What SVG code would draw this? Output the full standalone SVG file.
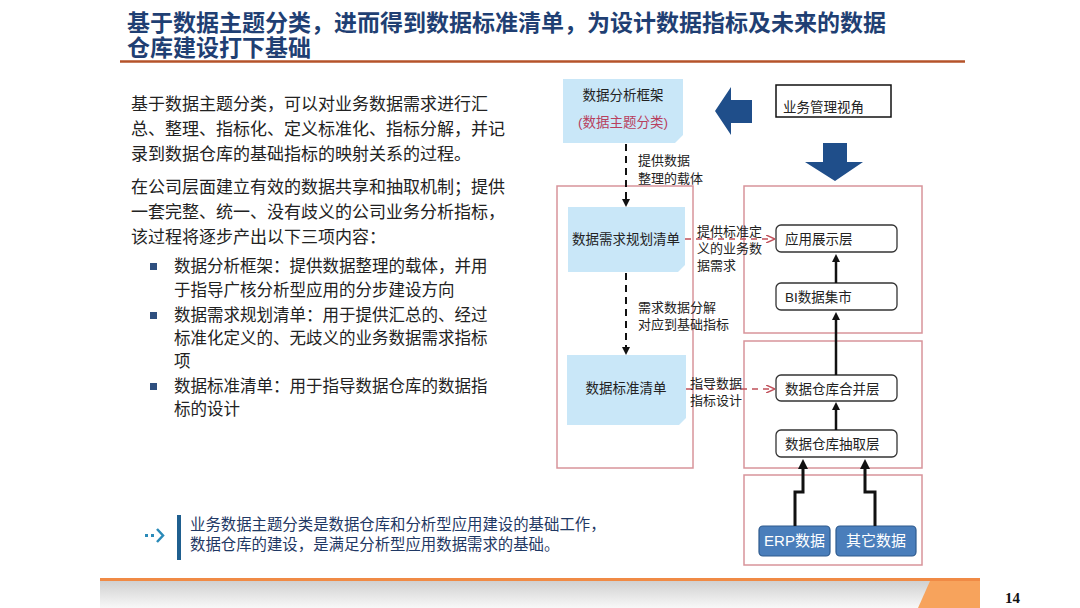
<svg xmlns="http://www.w3.org/2000/svg" width="1080" height="608" viewBox="0 0 1080 608">
<defs>
<style>
.t{font-family:"Liberation Sans","Noto Sans CJK SC",sans-serif;}
.title{font-size:23px;font-weight:bold;fill:#1F3F73;}
.body{font-size:17px;fill:#222;}
.bul{font-size:16.5px;fill:#222;}
.lbl{font-size:13px;fill:#222;}
.nb{font-size:13.5px;fill:#222;}
.red{fill:#B8405E;}
.wht{fill:#fff;font-size:15px;}
.frame{fill:none;stroke:#D8949A;stroke-width:1.5;}
.doc{fill:#C9E7F8;}
.layer{fill:#fff;stroke:#333;stroke-width:1.3;}
.blk{stroke:#111;stroke-width:3;fill:none;}
.src{fill:#4A7EBB;stroke:#2E5A8E;stroke-width:1.2;}
</style>
<marker id="ab" markerWidth="8" markerHeight="8" refX="4" refY="4" orient="auto" markerUnits="userSpaceOnUse"><path d="M0,0 L8,4 L0,8 z" fill="#111"/></marker>
<marker id="ar" markerWidth="9" markerHeight="8" refX="8" refY="4" orient="auto" markerUnits="userSpaceOnUse"><path d="M0,0 L9,4 L0,8" fill="none" stroke="#C0505A" stroke-width="1.5"/></marker>
<marker id="ak" markerWidth="10" markerHeight="10" refX="5" refY="5" orient="auto" markerUnits="userSpaceOnUse"><path d="M0,0 L10,5 L0,10 z" fill="#111"/></marker>
<linearGradient id="gb" x1="0" y1="0" x2="0" y2="1"><stop offset="0" stop-color="#D0D0D0"/><stop offset="1" stop-color="#F8F8F8"/></linearGradient>
</defs>
<rect width="1080" height="608" fill="#fff"/>

<g id="title">
<text class="t title" x="127" y="31">基于数据主题分类，进而得到数据标准清单，为设计数据指标及未来的数据</text>
<text class="t title" x="127" y="56">仓库建设打下基础</text>
<line x1="120" y1="61.5" x2="965" y2="61.5" stroke="#B5532A" stroke-width="2.5"/>
</g>

<g id="left-text">
<text class="t body" x="131" y="110">基于数据主题分类，可以对业务数据需求进行汇</text>
<text class="t body" x="131" y="135">总、整理、指标化、定义标准化、指标分解，并记</text>
<text class="t body" x="131" y="160">录到数据仓库的基础指标的映射关系的过程。</text>
<text class="t body" x="131" y="193">在公司层面建立有效的数据共享和抽取机制；提供</text>
<text class="t body" x="131" y="218">一套完整、统一、没有歧义的公司业务分析指标，</text>
<text class="t body" x="131" y="243">该过程将逐步产出以下三项内容：</text>
<rect x="150" y="263" width="7" height="7" fill="#2E4F7F"/>
<text class="t bul" x="174" y="272">数据分析框架：提供数据整理的载体，并用</text>
<text class="t bul" x="174" y="296">于指导广核分析型应用的分步建设方向</text>
<rect x="150" y="312" width="7" height="7" fill="#2E4F7F"/>
<text class="t bul" x="174" y="321">数据需求规划清单：用于提供汇总的、经过</text>
<text class="t bul" x="174" y="344">标准化定义的、无歧义的业务数据需求指标</text>
<text class="t bul" x="174" y="367">项</text>
<rect x="150" y="383" width="7" height="7" fill="#2E4F7F"/>
<text class="t bul" x="174" y="392">数据标准清单：用于指导数据仓库的数据指</text>
<text class="t bul" x="174" y="415">标的设计</text>
</g>

<g id="note">
<rect x="145" y="534" width="3" height="3" fill="#2A8AB8"/>
<rect x="151" y="534" width="3" height="3" fill="#2A8AB8"/>
<path d="M157,529 L163,535.5 L157,542" fill="none" stroke="#2A8AB8" stroke-width="2.5"/>
<rect x="177" y="515" width="4" height="45" fill="#1F5F8F"/>
<text class="t" x="190" y="530" font-size="15.4" fill="#1F3864">业务数据主题分类是数据仓库和分析型应用建设的基础工作，</text>
<text class="t" x="190" y="550" font-size="15.4" fill="#1F3864">数据仓库的建设，是满足分析型应用数据需求的基础。</text>
</g>

<g id="footer">
<rect x="100" y="581" width="880" height="27" fill="url(#gb)"/>
<path d="M930,581 L980,581 L980,608 L918,608 Z" fill="#F7A35C"/>
<line x1="100" y1="579.5" x2="980" y2="579.5" stroke="#F08A45" stroke-width="3"/>
<text x="1005" y="603" font-family="Liberation Serif,serif" font-size="15" font-weight="bold" fill="#111">14</text>
</g>

<g id="frames">
<rect class="frame" x="557" y="186" width="136" height="282"/>
<rect class="frame" x="744" y="186" width="178" height="147"/>
<rect class="frame" x="744" y="341" width="178" height="127"/>
<rect class="frame" x="744" y="475" width="178" height="90"/>
</g>

<g id="node-framework">
<path class="doc" d="M563,79 H683 V135 L675,143 H563 Z"/>
<text class="t nb" x="623" y="100" text-anchor="middle" font-size="14">数据分析框架</text>
<text class="t nb red" x="623" y="127" text-anchor="middle">(数据主题分类)</text>
</g>

<g id="node-biz">
<rect x="776" y="85" width="115" height="32" fill="#fff" stroke="#111" stroke-width="1.5"/>
<text class="t nb" x="783" y="112">业务管理视角</text>
</g>

<g id="big-arrows">
<path d="M752,100 H731 V87 L715,111 L731,135 V123 H752 Z" fill="#1F4E8A"/>
<path d="M823,143 H847 V162 H863 L835,181 L805,162 H823 Z" fill="#1F4E8A"/>
</g>

<g id="node-demand">
<path class="doc" d="M568,207 H685 V265 L678,272 H568 Z"/>
<text class="t nb" x="626" y="244" text-anchor="middle">数据需求规划清单</text>
</g>

<g id="node-standard">
<path class="doc" d="M567,355 H686 V418 L679,425 H567 Z"/>
<text class="t nb" x="626" y="393" text-anchor="middle">数据标准清单</text>
</g>

<g id="node-app"><rect class="layer" x="776" y="225" width="121" height="27" rx="5"/><text class="t nb" x="785" y="244">应用展示层</text></g>
<g id="node-bi"><rect class="layer" x="776" y="283" width="121" height="27" rx="5"/><text class="t nb" x="785" y="302">BI数据集市</text></g>
<g id="node-merge"><rect class="layer" x="776" y="375" width="121" height="26" rx="5"/><text class="t nb" x="785" y="394">数据仓库合并层</text></g>
<g id="node-extract"><rect class="layer" x="776" y="430" width="121" height="27" rx="5"/><text class="t nb" x="785" y="449">数据仓库抽取层</text></g>
<g id="node-erp"><rect class="src" x="759" y="526" width="71" height="30" rx="4"/><text class="t wht" x="794.5" y="546" text-anchor="middle">ERP数据</text></g>
<g id="node-other"><rect class="src" x="836" y="526" width="80" height="30" rx="4"/><text class="t wht" x="876" y="546" text-anchor="middle">其它数据</text></g>

<g id="connectors">
<line x1="626" y1="144" x2="626" y2="203" stroke="#111" stroke-width="2" stroke-dasharray="7,5" marker-end="url(#ab)"/>
<line x1="626" y1="273" x2="626" y2="351" stroke="#111" stroke-width="2" stroke-dasharray="7,5" marker-end="url(#ab)"/>
<line x1="685" y1="239" x2="774" y2="239" stroke="#C0505A" stroke-width="1.5" stroke-dasharray="6,5" marker-end="url(#ar)"/>
<line x1="686" y1="389" x2="774" y2="389" stroke="#C0505A" stroke-width="1.5" stroke-dasharray="6,5" marker-end="url(#ar)"/>
<line x1="836" y1="283" x2="836" y2="258" stroke="#111" stroke-width="2.5" marker-end="url(#ab)"/>
<line x1="836" y1="375" x2="836" y2="316" stroke="#111" stroke-width="2.5" marker-end="url(#ab)"/>
<line x1="836" y1="430" x2="836" y2="406" stroke="#111" stroke-width="2.5" marker-end="url(#ab)"/>
<path class="blk" d="M795,526 V492 H803 V464" marker-end="url(#ak)"/>
<path class="blk" d="M875,526 V492 H865 V464" marker-end="url(#ak)"/>
<text class="t lbl" x="638" y="165">提供数据</text>
<text class="t lbl" x="638" y="183">整理的载体</text>
<text class="t lbl" x="638" y="312">需求数据分解</text>
<text class="t lbl" x="638" y="329">对应到基础指标</text>
<text class="t lbl" x="697" y="236">提供标准定</text>
<text class="t lbl" x="697" y="253">义的业务数</text>
<text class="t lbl" x="697" y="270">据需求</text>
<text class="t lbl" x="690" y="388">指导数据</text>
<text class="t lbl" x="690" y="405">指标设计</text>
</g>
</svg>
